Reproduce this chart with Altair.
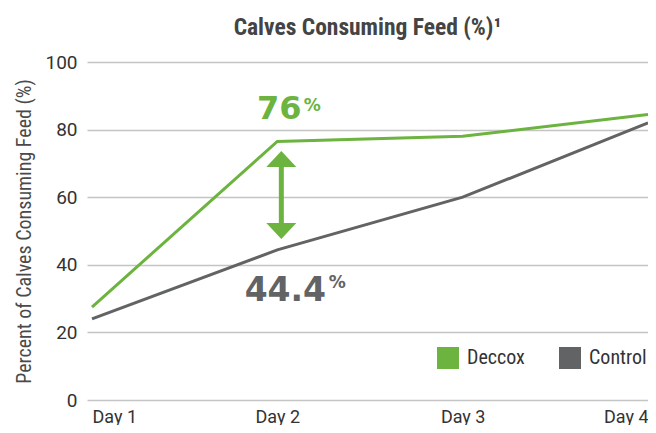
import altair as alt
import pandas as pd

days = ["Day 1", "Day 2", "Day 3", "Day 4"]
deccox = [27.5, 76.5, 78, 84.5]
control = [24, 44.4, 60, 82]
series = ["Deccox", "Control"]
colors = ["#6db33f", "#616365"]

FONT = "Roboto Condensed, Liberation Sans Narrow, Roboto, sans-serif"
NUMFONT = "Roboto, sans-serif"

rows = []
for i, (d, v) in enumerate(zip(days, deccox)):
    rows.append({"idx": i, "day": d, "value": v, "series": "Deccox"})
for i, (d, v) in enumerate(zip(days, control)):
    rows.append({"idx": i, "day": d, "value": v, "series": "Control"})
df = pd.DataFrame(rows)

label_expr = "[" + ",".join("'" + d + "'" for d in days) + "][datum.value]"
xscale = alt.Scale(domain=[-0.027, 3.0], nice=False, zero=False)
yscale = alt.Scale(domain=[0, 100])

xaxis = alt.Axis(title=None, values=list(range(len(days))), labelExpr=label_expr, labelAngle=0,
                 labelFlush=12, ticks=False, domain=False, labelFontSize=18, labelColor="#333333",
                 labelFont=NUMFONT, labelPadding=8, grid=False)

lines = alt.Chart(df).mark_line(strokeWidth=3).encode(
    x=alt.X("idx:Q", scale=xscale, axis=xaxis),
    y=alt.Y("value:Q", scale=yscale,
            axis=alt.Axis(title="Percent of Calves Consuming Feed (%)", values=[0, 20, 40, 60, 80, 100],
                          ticks=False, domain=False, labelFontSize=19, labelColor="#333333",
                          labelFont=NUMFONT, labelPadding=10, titleFont=FONT, titleFontSize=20,
                          titleFontWeight="normal", titleColor="#4a4a4a", titlePadding=10,
                          gridColor="#c4c4c4", gridWidth=1.4)),
    color=alt.Color("series:N", scale=alt.Scale(domain=series, range=colors),
                    legend=alt.Legend(title=None, orient="none", legendX=350, legendY=285,
                                      direction="horizontal", symbolType="square", symbolSize=36,
                                      symbolStrokeWidth=16, labelFontSize=20, labelFont=FONT,
                                      labelColor="#333333", columnPadding=10, labelOffset=8,
                                      symbolOpacity=1)),
)

# annotation numbers
ann_idx = [1, 1]
ann_vals = [86.1, 32.2]
ann_text = ["76", "44.4"]
ann_col = ["#6db33f", "#616365"]
big_df = pd.DataFrame({"idx": ann_idx, "value": ann_vals, "text": ann_text, "col": ann_col})

enc_big = dict(x=alt.X("idx:Q", scale=xscale), y=alt.Y("value:Q", scale=yscale),
               text="text:N", color=alt.Color("col:N", scale=None))
big1 = alt.Chart(big_df.iloc[[0]]).mark_text(fontSize=32, fontWeight="bold", font="DejaVu Sans",
                                             baseline="middle", align="center", dx=2).encode(**enc_big)
big2 = alt.Chart(big_df.iloc[[1]]).mark_text(fontSize=33, fontWeight="bold", font="DejaVu Sans",
                                             baseline="middle", align="center", dx=8).encode(**enc_big)

pct_vals = [87.1, 34.5]
pct_df = pd.DataFrame({"idx": ann_idx, "value": pct_vals, "col": ann_col})
enc_pct = dict(x=alt.X("idx:Q", scale=xscale), y=alt.Y("value:Q", scale=yscale),
               color=alt.Color("col:N", scale=None))
pct1 = alt.Chart(pct_df.iloc[[0]]).mark_text(text="%", fontSize=17, fontWeight="bold",
                                             font="DejaVu Sans", dx=35, baseline="middle").encode(**enc_pct)
pct2 = alt.Chart(pct_df.iloc[[1]]).mark_text(text="%", fontSize=17, fontWeight="bold",
                                             font="DejaVu Sans", dx=60, baseline="middle").encode(**enc_pct)

# double arrow
arrow_top = [71.3]
arrow_bot = [50.0]
arr_df = pd.DataFrame({"idx": [1], "top": arrow_top, "bot": arrow_bot})
ax = alt.X("idx:Q", scale=xscale)
shaft = alt.Chart(arr_df).mark_rule(color="#6db33f", strokeWidth=5, xOffset=4).encode(
    x=ax, y=alt.Y("top:Q", scale=yscale), y2="bot:Q")
head_up = alt.Chart(arr_df).mark_point(shape="M0,-0.53L1,0.53L-1,0.53Z", size=900, filled=True,
                                       opacity=1, color="#6db33f", strokeWidth=0, xOffset=4).encode(
    x=ax, y=alt.Y("top:Q", scale=yscale))
head_dn = alt.Chart(arr_df).mark_point(shape="M0,0.53L1,-0.53L-1,-0.53Z", size=900, filled=True,
                                       opacity=1, color="#6db33f", strokeWidth=0, xOffset=4).encode(
    x=ax, y=alt.Y("bot:Q", scale=yscale))

chart = alt.layer(lines, shaft, head_up, head_dn, big1, big2, pct1, pct2).properties(
    width=561, height=338,
    title=alt.Title("Calves Consuming Feed (%)¹", fontSize=23.5, font=FONT, fontWeight="bold",
                    color="#444444", offset=14),
    autosize=alt.AutoSizeParams(type="none"),
    padding={"left": 79, "top": 54, "right": 0, "bottom": 25},
    background="white",
).configure_view(stroke=None)

chart.save("out.html", embed_options={"renderer": "svg", "actions": False})
